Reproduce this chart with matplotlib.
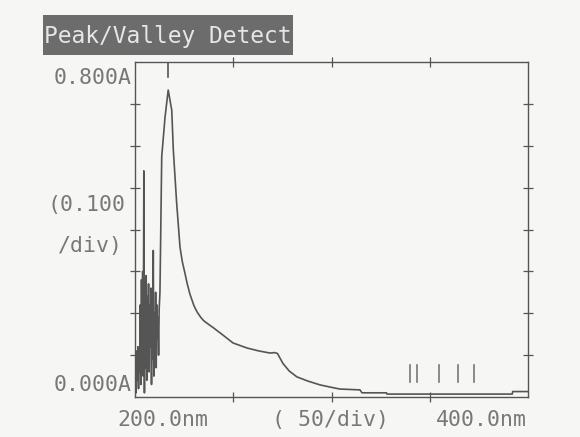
import matplotlib
import matplotlib.pyplot as plt
from matplotlib.patches import Rectangle

matplotlib.use("Agg")

# noisy start of the scan (200-212 nm)
noise_wl = [200.0, 200.3, 200.6, 200.9, 201.2, 201.5, 201.8, 202.1, 202.4, 202.7,
            203.0, 203.3, 203.6, 203.9, 204.2, 204.5, 204.8, 205.1, 205.4, 205.7,
            206.0, 206.3, 206.6, 206.9, 207.2, 207.5, 207.8, 208.1, 208.4, 208.7,
            209.0, 209.3, 209.6, 209.9, 210.2, 210.5, 210.8, 211.1, 211.4, 211.7,
            212.0, 212.3]
noise_abs = [0.02, 0.09, 0.01, 0.11, 0.04, 0.12, 0.02, 0.10, 0.06, 0.22,
             0.03, 0.28, 0.08, 0.30, 0.05, 0.54, 0.01, 0.26, 0.07, 0.29,
             0.04, 0.24, 0.10, 0.27, 0.06, 0.22, 0.12, 0.26, 0.03, 0.23,
             0.09, 0.35, 0.05, 0.20, 0.11, 0.25, 0.07, 0.22, 0.14, 0.19,
             0.10, 0.21]

# main absorption band and tail
main_wl = [212.7, 213.6, 215.3, 216.9, 218.7, 219.5, 221.2, 222.9, 224.0, 225.4,
           226.5, 228.0, 230.0, 231.6, 233.5, 235.0, 237.0, 239.7, 245.0, 249.9,
           257.0, 263.0, 268.7, 271.0, 272.5, 275.3, 278.5, 282.4, 288.0, 294.1,
           299.0, 304.3, 314.5, 315.5, 328.0, 328.2, 392.0, 392.2, 400.0]
main_abs = [0.25, 0.574, 0.669, 0.733, 0.685, 0.590, 0.463, 0.358, 0.325, 0.296,
            0.272, 0.245, 0.218, 0.203, 0.190, 0.182, 0.175, 0.166, 0.147, 0.129,
            0.117, 0.110, 0.105, 0.106, 0.104, 0.080, 0.062, 0.048, 0.038, 0.029,
            0.024, 0.019, 0.017, 0.010, 0.010, 0.007, 0.007, 0.013, 0.013]

peak_wl = [216.9]
valley_wl = [340.0, 343.5, 354.7, 364.4, 372.5]
valley_lo, valley_hi = 0.036, 0.076

x_ticks = [250, 300, 350]
y_ticks = [0.1, 0.2, 0.3, 0.4, 0.5, 0.6, 0.7]

INK = "#555555"
TXT = "#787878"
PAPER = "#f6f6f4"
MONO = "DejaVu Sans Mono"

W, H = 580, 437
fig = plt.figure(figsize=(W / 100, H / 100), dpi=100, facecolor=PAPER)
ax = fig.add_axes([135 / W, 1 - 397 / H, 393 / W, 335 / H], facecolor=PAPER)

ax.plot(noise_wl + main_wl, noise_abs + main_abs, color=INK, linewidth=1.2)

for wl in peak_wl:
    ax.plot([wl, wl], [0.8, 0.765], color=INK, linewidth=1.2)
for wl in valley_wl:
    ax.plot([wl, wl], [valley_lo, valley_hi], color="#777777", linewidth=1.2)

ax.set_xlim(200, 400)
ax.set_ylim(0, 0.8)
ax.set_xticks(x_ticks)
ax.set_yticks(y_ticks)
ax.set_xticklabels([])
ax.set_yticklabels([])
ax.tick_params(direction="inout", length=7, width=0.9, color=INK,
               top=True, right=True, bottom=True, left=True)
for s in ax.spines.values():
    s.set_color(INK)
    s.set_linewidth(1.0)


def px_text(x, y, s, ha="left", **kw):
    fig.text(x / W, 1 - y / H, s, ha=ha, va="center", family=MONO,
             fontsize=15.5, color=TXT, **kw)


# title banner
fig.patches.append(Rectangle((43 / W, 1 - 55 / H), 250 / W, 40 / H,
                             transform=fig.transFigure, facecolor="#6c6c6c",
                             edgecolor="none"))
fig.text(168 / W, 1 - 36 / H, "Peak/Valley Detect", ha="center", va="center",
         family=MONO, fontsize=16.5, color="#e6e6e6")

px_text(132, 78, "0.800A", ha="right")
px_text(48, 205, "(0.100")
px_text(58, 246, "/div)")
px_text(132, 385, "0.000A", ha="right")
px_text(163, 420, "200.0nm", ha="center")
px_text(331, 420, "( 50/div)", ha="center")
px_text(481, 420, "400.0nm", ha="center")

fig.savefig("out.png", dpi=100, facecolor=PAPER)
